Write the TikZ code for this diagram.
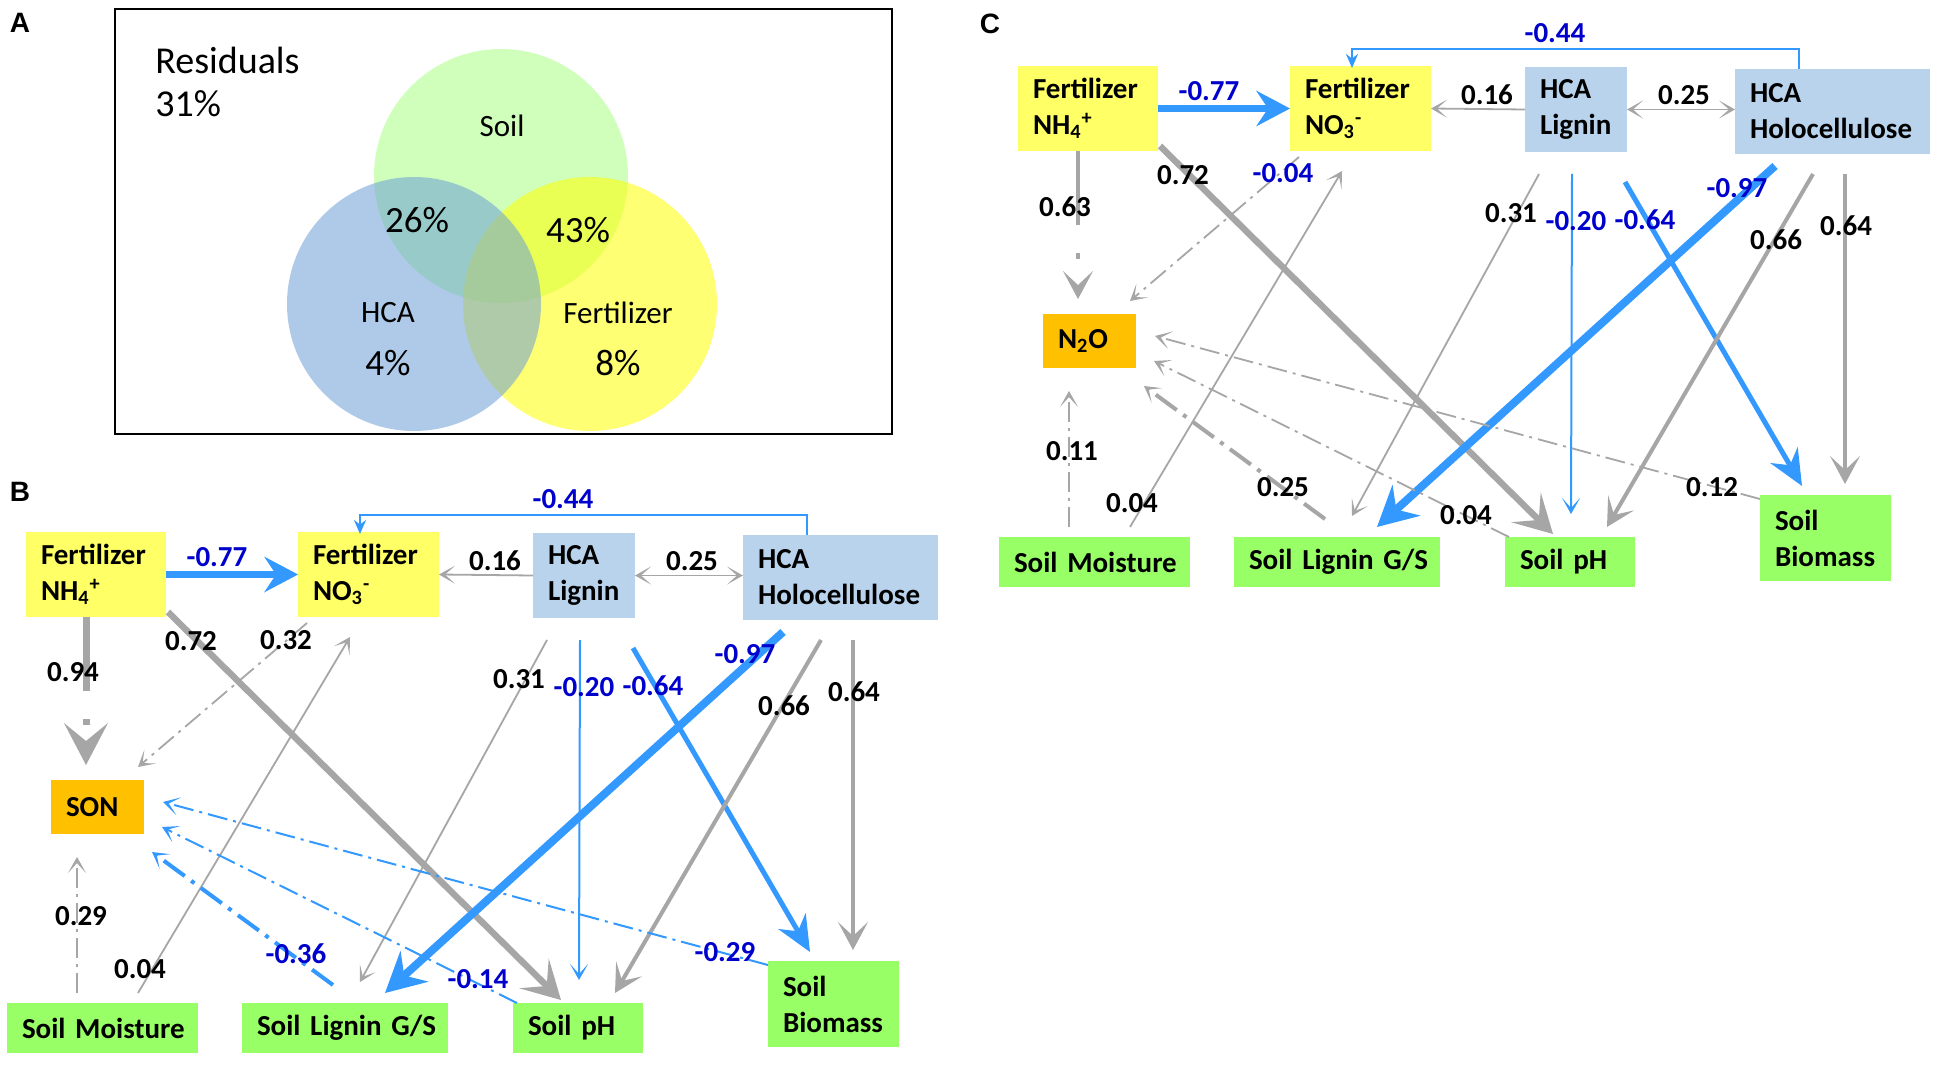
\documentclass[tikz,border=0pt]{standalone}
\usepackage{fontspec}
\setmainfont{Carlito}
\newfontfamily\panelfont{Liberation Sans}
\usetikzlibrary{arrows.meta}
\usetikzlibrary{calc}
\usetikzlibrary{positioning}

\definecolor{boxyellow}{RGB}{255,255,102}
\definecolor{boxblue}{RGB}{185,211,236}
\definecolor{boxgreen}{RGB}{153,255,102}
\definecolor{boxorange}{RGB}{255,192,0}
\definecolor{lnblue}{RGB}{51,153,255}
\definecolor{lngrey}{RGB}{166,166,166}
\definecolor{txtblue}{RGB}{0,0,204}
\definecolor{vennsoil}{RGB}{160,255,120}
\definecolor{vennhca}{RGB}{110,160,215}
\definecolor{vennfert}{RGB}{255,255,0}

\newcommand{\nhfour}{NH\textsubscript{4}\textsuperscript{+}}
\newcommand{\nothree}{NO\textsubscript{3}\textsuperscript{-}}

% boxes and paths shared by panels B and C
\newcommand{\pathnet}{%
	\node[varbox, fill=boxyellow, text width=55pt, minimum height=42.5pt] (nh4) at (96,574.5) {Fertilizer\\\nhfour};
	\node[varbox, fill=boxyellow, text width=55.5pt, minimum height=42.5pt] (no3) at (368.5,574.5) {Fertilizer\\\nothree};
	\node[varbox, fill=boxblue, text width=36pt, minimum height=42.5pt] (lig) at (584,575.5) {HCA\\Lignin};
	\node[varbox, fill=boxblue, text width=82.5pt, minimum height=42.5pt] (holo) at (840.5,577.5) {HCA\\Holocellulose};
	\node[varbox, fill=boxgreen, text width=80.5pt, minimum height=25pt] (sm) at (102.5,1028) {\mbox{Soil Moisture}};
	\node[varbox, fill=boxgreen, text width=88pt, minimum height=25pt] (slg) at (345,1028) {\mbox{Soil Lignin G/S}};
	\node[varbox, fill=boxgreen, text width=50pt, minimum height=25pt] (sph) at (578,1028) {\mbox{Soil pH}};
	\node[varbox, fill=boxgreen, text width=50.5pt, minimum height=43pt] (sbm) at (833.5,1004) {Soil\\Biomass};
	
	\draw[btop] (nh4.east) -- (no3.west) node[coefb] (l077) at (217,557) {-0.77};
	\draw[gthin] (lig.west) -- (no3.east) node[coef] (l016) at (495,561) {0.16};
	\draw[gthin, {Stealth[length=8pt, width=9pt, inset=5pt]}-{Stealth[length=8pt, width=9pt, inset=5pt]}] (lig.east) -- (lig.east -| holo.west) node[coef] (l025) at (692,561) {0.25};
	\draw[draw=lnblue, line width=1.4pt, -{Stealth[length=7pt, width=6pt]}] ([xshift=32pt]holo.north west) -- ++(0,-20) -| ([xshift=31pt, yshift=-1pt]no3.north west) node[coefb] (l044) at (563,499) {-0.44};
	
	\draw[gthick] ([xshift=1pt, yshift=2.5pt]nh4.south east) -- ([xshift=24pt, yshift=1.5pt]sph.north west) node[coef] (l072) at (191,641) {0.72};
	\draw[gthin] ([xshift=65.5pt, yshift=5pt]sm.north west) -- ([xshift=26pt, yshift=-10pt]no3.south west) node[coef] (l004) at (140,969) {0.04};
	\draw[gthin] ([xshift=7pt, yshift=-11pt]lig.south west) -- ([xshift=59pt, yshift=10.5pt]slg.north west) node[coef] (l031) at (519,679) {0.31};
	\draw[bthin] ([xshift=23.5pt, yshift=-11pt]lig.south west) -- ([xshift=33pt, yshift=11.5pt]sph.north west) node[coefb] (l020) at (584,687) {-0.20};
	\draw[bmid] ([xshift=50pt, yshift=-15pt]lig.south west) -- ([xshift=21pt, yshift=4.5pt]sbm.north west) node[coefb] (l064) at (653,686) {-0.64};
	\draw[bthick] ([xshift=20pt, yshift=-6pt]holo.south west) -- ([xshift=71.5pt, yshift=5pt]slg.north west) node[coefb] (l097) at (745,654) {-0.97};
	\draw[gmid] ([xshift=39pt, yshift=-10pt]holo.south west) -- ([xshift=51pt, yshift=5pt]sph.north west) node[coef] (l066) at (784,706) {0.66};
	\draw[gmid] ([xshift=55pt, yshift=-10pt]holo.south west) -- ([xshift=42.5pt, yshift=5.5pt]sbm.north west) node[coef] (l064g) at (854,692) {0.64};
}

\begin{document}
\begin{tikzpicture}[x=0.5pt, y=-0.5pt,
	varbox/.style={inner xsep=7.5pt, inner ysep=0pt, outer sep=0pt, align=left, font=\fontsize{14.5}{18}\selectfont\bfseries},
	coef/.style={inner sep=0pt, text=black, font=\fontsize{14.5}{17}\selectfont\bfseries},
	coefb/.style={coef, text=txtblue},
	venn/.style={inner sep=0pt, font=\fontsize{15.5}{18}\selectfont},
	vennpc/.style={inner sep=0pt, font=\fontsize{18.5}{22}\selectfont},
	panel/.style={inner sep=0pt, font=\panelfont\bfseries\fontsize{14}{16}\selectfont},
	gthin/.style={draw=lngrey, line width=0.9pt, -{Stealth[length=8pt, width=9pt, inset=5pt]}},
	gmid/.style={draw=lngrey, line width=2pt, -{Stealth[length=14pt, width=15pt, inset=7pt, line width=0pt]}},
	gthick/.style={draw=lngrey, line width=3.2pt, -{Stealth[length=19pt, width=21pt, inset=9pt, line width=0pt]}},
	bthin/.style={draw=lnblue, line width=1pt, -{Stealth[length=8pt, width=9pt, inset=5pt]}},
	bmid/.style={draw=lnblue, line width=2.5pt, -{Stealth[length=18pt, width=16pt, inset=6pt, line width=0pt]}},
	bthick/.style={draw=lnblue, line width=4pt, -{Stealth[length=20pt, width=21pt, inset=7pt, line width=0pt]}},
	btop/.style={draw=lnblue, line width=3.5pt, -{Stealth[length=17pt, width=18pt, inset=6pt, line width=0pt]}},
	dashdot/.style={dash pattern=on 10pt off 3pt on 1.5pt off 3pt},
	longdd/.style={dash pattern=on 37pt off 14pt on 3pt off 14pt}]
	
	\useasboundingbox (0,0) rectangle (1954,1080);
	\fill[white] (0,0) rectangle (1954,1080);
	
	% panel A
	\node[panel] (pa) at (20,23) {A};
	\draw[line width=0.75pt] (115,9) rectangle (892,434);
	\fill[vennsoil, fill opacity=0.5] (501,176) circle[radius=127];
	\fill[vennfert, fill opacity=0.55] (590,304) circle[radius=127];
	\fill[vennhca, fill opacity=0.55] (414,304) circle[radius=127];
	\node[inner sep=0pt, anchor=base west, font=\fontsize{19}{22}\selectfont] (resid) at (155,74) {Residuals};
	\node[inner sep=0pt, anchor=base west, font=\fontsize{19}{22}\selectfont] (residv) at (155,117) {31\%};
	\node[venn] (vsoil) at (502,126) {Soil};
	\node[vennpc] (v26) at (417,220) {26\%};
	\node[vennpc] (v43) at (578,230) {43\%};
	\node[venn] (vhca) at (388,313) {HCA};
	\node[vennpc] (v4) at (388,363) {4\%};
	\node[venn] (vfert) at (618,313) {Fertilizer};
	\node[vennpc] (v8) at (618,363) {8\%};
	
	% panel B
	\node[panel] (pb) at (20,492) {B};
	\begin{scope}[name prefix=b-]
		\pathnet
		\node[varbox, fill=boxorange, text width=31.5pt, minimum height=27pt] (son) at (97.5,807) {SON};
		\draw[draw=lngrey, line width=3.5pt, longdd, -{Stealth[length=21pt, width=22pt, inset=9pt, line width=0pt]}] ([xshift=-5pt]nh4.south) -- ([xshift=-5.75pt, yshift=7.5pt]son.north) node[coef] (l094) at (73,672) {0.94};
		\draw[gthin, dashdot] ([xshift=4.5pt, yshift=-3pt]no3.south west) -- ([xshift=-3pt, yshift=6.5pt]son.north east) node[coef] (l032) at (286,640) {0.32};
		\draw[gthin, dashdot] ([xshift=35pt, yshift=5pt]sm.north west) -- ([xshift=13pt, yshift=-11.5pt]son.south west) node[coef] (l029) at (81,916) {0.29};
		\draw[bthin, line width=2pt, dash pattern=on 13pt off 4pt on 2pt off 4pt] ([xshift=45.5pt, yshift=9pt]slg.north west) -- ([xshift=4pt, yshift=-9pt]son.south east) node[coefb] (l036) at (296,954) {-0.36};
		\draw[bthin, dashdot] ([xshift=2pt]sph.north west) -- ([xshift=9pt, yshift=-10pt]son.east) node[coefb] (l014) at (478,979) {-0.14};
		\draw[bthin, dashdot] ([yshift=-2pt]sbm.north west) -- ([xshift=9.5pt, yshift=2.5pt]son.east) node[coefb] (l029b) at (725,952) {-0.29};
	\end{scope}
	
	% panel C
	\node[panel] (pc) at (990,24) {C};
	\begin{scope}[shift={(992,-466)}, name prefix=c-]
		\pathnet
		\node[varbox, fill=boxorange, text width=31.5pt, minimum height=27pt] (n2o) at (97.5,807) {N\textsubscript{2}O};
		\draw[draw=lngrey, line width=2pt, longdd, -{Stealth[length=14pt, width=15pt, inset=7pt, line width=0pt]}] ([xshift=-5pt]nh4.south) -- ([xshift=-5.75pt, yshift=7.5pt]n2o.north) node[coef] (l063) at (73,673) {0.63};
		\draw[gthin, dashdot] ([xshift=4.5pt, yshift=-3pt]no3.south west) -- ([xshift=-3pt, yshift=6.5pt]n2o.north east) node[coefb] (l004n) at (291,639) {-0.04};
		\draw[gthin, dashdot] ([xshift=35pt, yshift=5pt]sm.north west) -- ([xshift=13pt, yshift=-11.5pt]n2o.south west) node[coef] (l011) at (80,917) {0.11};
		\draw[gthin, line width=2pt, dash pattern=on 13pt off 4pt on 2pt off 4pt] ([xshift=45.5pt, yshift=9pt]slg.north west) -- ([xshift=4pt, yshift=-9pt]n2o.south east) node[coef] (l025n) at (291,953) {0.25};
		\draw[gthin, dashdot] ([xshift=2pt]sph.north west) -- ([xshift=9pt, yshift=-10pt]n2o.east) node[coef] (l004p) at (474,981) {0.04};
		\draw[gthin, dashdot] ([yshift=-2pt]sbm.north west) -- ([xshift=9.5pt, yshift=2.5pt]n2o.east) node[coef] (l012) at (720,953) {0.12};
	\end{scope}
\end{tikzpicture}
\end{document}
